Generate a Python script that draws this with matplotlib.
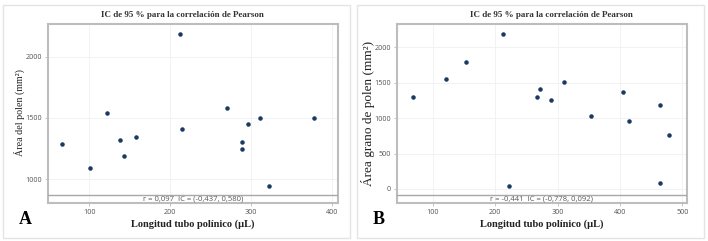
import matplotlib
matplotlib.use('Agg')
import matplotlib.pyplot as plt
from matplotlib.patches import Rectangle

# datos panel A
long_a = [66.6, 101.2, 121.5, 138, 142.5, 158.2, 212.7, 214.3, 270, 289, 289.4, 296.9, 311.3, 322, 378.2]
area_a = [1288, 1095, 1543, 1321, 1187, 1342, 2182, 1410, 1579, 1302, 1250, 1448, 1500, 946, 1500]
# datos panel B
long_b = [68, 121.9, 153.4, 213.2, 222.9, 267.2, 272.5, 289.1, 310.5, 354.3, 405.6, 414.6, 463.8, 478.7, 463.8]
area_b = [1292, 1547, 1788, 2184, 42, 1297, 1406, 1259, 1505, 1024, 1368, 958, 1193, 759, 80]

xticks_a = [100, 200, 300, 400]
yticks_a = [1000, 1500, 2000]
xticks_b = [100, 200, 300, 400, 500]
yticks_b = [0, 500, 1000, 1500, 2000]

titulo = 'IC de 95 % para la correlación de Pearson'
xlab = 'Longitud tubo polínico (µL)'
ylab_a = 'Área del polen (mm²)'
ylab_b = 'Área grano de polen (mm²)'
texto_a = 'r = 0,097  IC = (-0,437, 0,580)'
texto_b = 'r = -0,441  IC = (-0,778, 0,092)'

W, H = 708, 241
fig = plt.figure(figsize=(W / 100, H / 100), dpi=100)
fig.patch.set_facecolor('white')

serif = ['Liberation Serif', 'DejaVu Serif']
sans = ['Open Sans', 'DejaVu Sans']


def panel(x0, x1, px_ax0, xs, ys, xticks, yticks, xlim, ylim, ylab, ylab_size, texto, letra, tit_x, ylab_x):
    # marco del panel
    fig.patches.append(Rectangle((x0 / W, 3 / H), (x1 - x0) / W, 233 / H, transform=fig.transFigure,
                                 fill=False, edgecolor='#e4e4e4', linewidth=1))
    ax = fig.add_axes([px_ax0 / W, 1 - 203 / H, 290.6 / W, 179 / H])
    ax.scatter(xs, ys, s=5, color='#1b3a63', zorder=3)
    ax.set_xlim(*xlim)
    ax.set_ylim(*ylim)
    ax.set_xticks(xticks)
    ax.set_yticks(yticks)
    ax.grid(True, color='#f0f0f0', linewidth=0.6)
    for sp in ax.spines.values():
        sp.set_color('#bdbdbd')
        sp.set_linewidth(1.5)
    ax.tick_params(labelsize=5.2, colors='#bbbbbb', labelcolor='#555555', length=2, width=0.6, pad=2)
    for lab in ax.get_xticklabels() + ax.get_yticklabels():
        lab.set_family(sans)
    # franja inferior con el texto
    f = 8 / 179
    ax.plot([0, 1], [f, f], transform=ax.transAxes, color='#a8a8a8', linewidth=1, zorder=4)
    ax.text(0.5, f / 2, texto, transform=ax.transAxes, ha='center', va='center',
            fontsize=5.5, color='#555555', family=sans)
    fig.text(tit_x / W, 1 - 15 / H, titulo, ha='center', va='center', fontsize=6.5,
             family=serif, fontweight='bold', color='#333333')
    fig.text((px_ax0 + 145) / W, 1 - 224 / H, xlab, ha='center', va='center', fontsize=7.5,
             family=serif, fontweight='bold', color='#222222')
    fig.text(ylab_x / W, 1 - 113 / H, ylab, ha='center', va='center', rotation=90,
             fontsize=ylab_size, family=serif, color='#222222')
    fig.text((x0 + 22) / W, 1 - 220 / H, letra, ha='center', va='center', fontsize=13,
             family=serif, fontweight='bold', color='black')
    return ax


panel(3, 350, 47.7, long_a, area_a, xticks_a, yticks_a, (48.5, 408), (807, 2266),
      ylab_a, 7.2, texto_a, 'A', 182, 19)
panel(357, 704, 396.7, long_b, area_b, xticks_b, yticks_b, (42.3, 508), (-198, 2330),
      ylab_b, 9.5, texto_b, 'B', 551, 368)

fig.savefig('out.png', dpi=100, facecolor='white')
